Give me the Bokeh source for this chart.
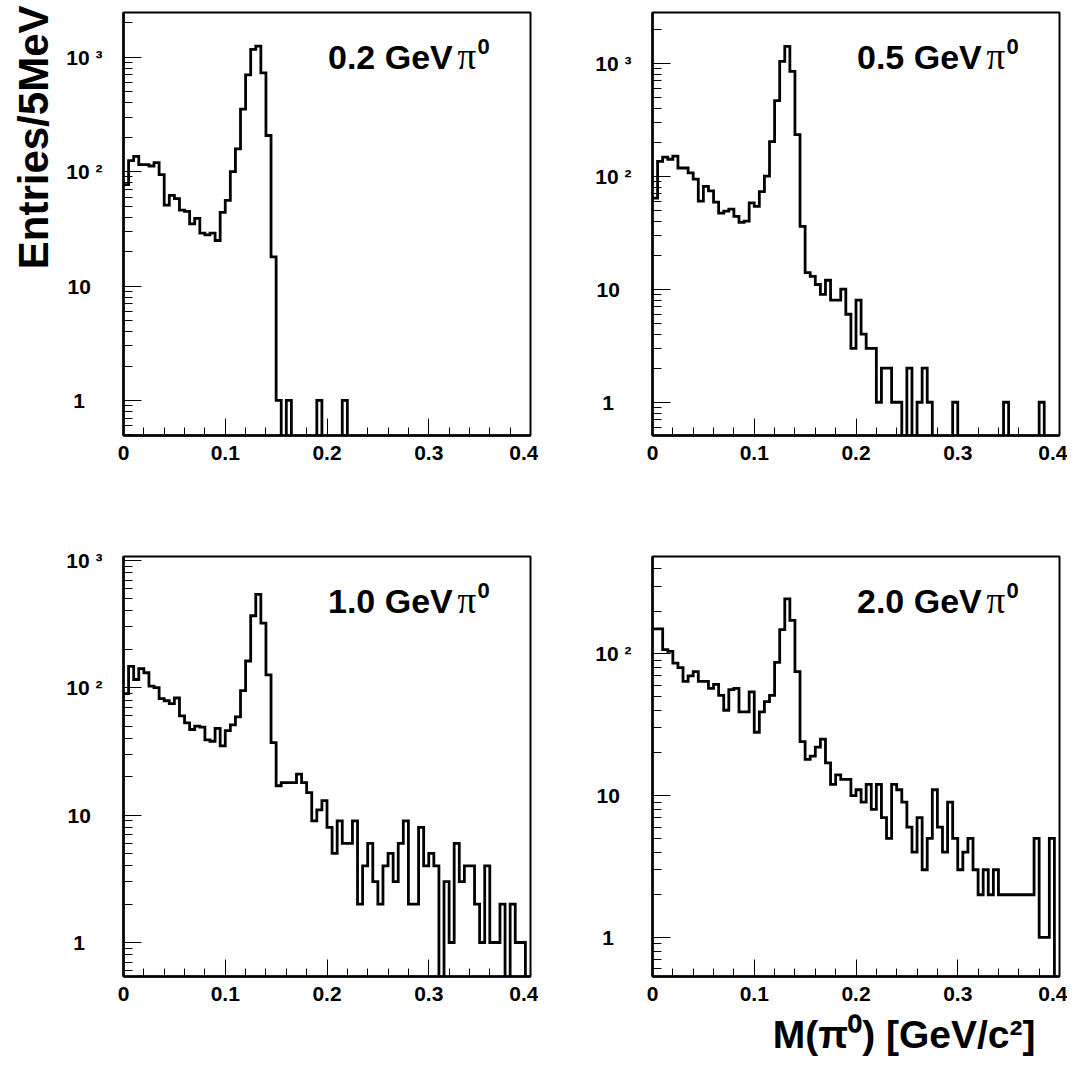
import math
from bokeh.plotting import figure
from bokeh.models import Range1d, FixedTicker, Label, Title
from bokeh.layouts import column, row
from bokeh.embed import file_html
from bokeh.resources import INLINE

# ---------------- data ----------------
bin_width = 0.005  # 5 MeV bins from 0 to 0.4 GeV
n_bins = 80
bin_edges = [round(i * bin_width, 4) for i in range(n_bins + 1)]

counts_02 = [77, 125, 136, 115, 115, 112, 120, 94, 51, 62,
             58, 46, 45, 35, 39, 29, 28, 29, 25, 44,
             56, 100, 158, 352, 700, 1170, 1250, 730, 207, 18,
             1, 0, 1, 0, 0, 0, 0, 0, 1, 0,
             0, 0, 0, 1, 0, 0, 0, 0, 0, 0,
             0, 0, 0, 0, 0, 0, 0, 0, 0, 0,
             0, 0, 0, 0, 0, 0, 0, 0, 0, 0,
             0, 0, 0, 0, 0, 0, 0, 0, 0, 0]

counts_05 = [64, 135, 147, 141, 150, 118, 118, 107, 94, 60,
             81, 74, 59, 47, 49, 51, 44, 39, 40, 58,
             54, 73, 100, 202, 465, 1036, 1406, 845, 233, 36,
             14, 13, 11, 9, 12, 8, 8, 10, 6, 3,
             8, 4, 3, 3, 1, 2, 2, 1, 1, 0,
             2, 0, 1, 2, 1, 0, 0, 0, 0, 1,
             0, 0, 0, 0, 0, 0, 0, 0, 0, 1,
             0, 0, 0, 0, 0, 0, 1, 0, 0, 0]

counts_10 = [90, 147, 116, 141, 131, 103, 100, 82, 79, 75,
             83, 60, 53, 47, 50, 49, 39, 38, 48, 35,
             46, 51, 59, 95, 162, 367, 541, 321, 126, 37,
             17, 18, 18, 18, 21, 18, 15, 9, 11, 13,
             8, 5, 9, 6, 6, 9, 2, 4, 6, 3,
             2, 4, 5, 3, 6, 9, 2, 2, 8, 4,
             5, 4, 0, 3, 1, 6, 3, 4, 4, 2,
             1, 4, 1, 1, 2, 0, 2, 1, 1, 0]

counts_20 = [150, 150, 107, 104, 86, 80, 64, 70, 75, 64,
             64, 57, 61, 51, 40, 56, 57, 39, 39, 54,
             28, 39, 46, 51, 87, 148, 244, 172, 75, 24,
             18, 19, 22, 25, 17, 12, 14, 13, 13, 10,
             11, 9, 12, 8, 12, 7, 5, 12, 11, 9,
             6, 4, 7, 3, 5, 11, 6, 4, 9, 5,
             3, 4, 5, 3, 2, 3, 2, 3, 2, 2,
             2, 2, 2, 2, 2, 5, 1, 1, 5, 0]

panel_labels = ["0.2 GeV", "0.5 GeV", "1.0 GeV", "2.0 GeV"]
y_ranges = [(0.494, 2460.0), (0.508, 2800.0), (0.541, 1071.0), (0.53, 486.0)]

x_major = [0, 0.1, 0.2, 0.3, 0.4]
x_tick_labels = ["0", "0.1", "0.2", "0.3", "0.4"]
x_minor = [round(0.02 * i, 3) for i in range(21)]
y_major = [1, 10, 100, 1000]
y_tick_labels = ["1\u00a0\u00a0\u00a0", "10\u00a0\u00a0", "10 \u00b2", "10 \u00b3"]
y_minor_all = [m * 10 ** k for k in range(-1, 4) for m in range(2, 10)]

y_title = "Entries/5MeV"
x_title = "M(\u03c0\u2070) [GeV/c\u00b2]"

SANS = "Liberation Sans"
SERIF = "Liberation Serif"


def make_panel(counts, label, yr, width, height, bl, br, bt, bb):
    p = figure(width=width, height=height,
               x_range=Range1d(0, 0.4), y_range=Range1d(yr[0], yr[1]),
               y_axis_type="log", output_backend="svg",
               toolbar_location=None, title=None,
               min_border_left=bl, min_border_right=br,
               min_border_top=bt, min_border_bottom=bb)
    p.background_fill_color = "white"
    p.border_fill_color = "white"
    p.outline_line_color = "black"
    p.outline_line_width = 2
    p.xgrid.visible = False
    p.ygrid.visible = False

    floor = yr[0] * 0.05
    yv = [c if c > 0 else floor for c in counts]
    p.step(x=bin_edges, y=yv + [yv[-1]], mode="after",
           line_color="black", line_width=2.8, line_join="miter")

    # x axis
    xa = p.xaxis[0]
    xa.ticker = FixedTicker(ticks=x_major, minor_ticks=x_minor)
    xa.major_label_overrides = dict(zip(x_major, x_tick_labels))
    xa.major_tick_in = 17
    xa.major_tick_out = 0
    xa.minor_tick_in = 8
    xa.minor_tick_out = 0
    xa.major_label_standoff = 10

    # y axis
    ya = p.yaxis[0]
    ymin, ymax = yr
    ya.ticker = FixedTicker(ticks=[t for t in y_major if ymin <= t <= ymax],
                            minor_ticks=[t for t in y_minor_all if ymin <= t <= ymax])
    ya.major_label_overrides = dict(zip(y_major, y_tick_labels))
    ya.major_tick_in = 18
    ya.major_tick_out = 0
    ya.minor_tick_in = 9
    ya.minor_tick_out = 0
    ya.major_label_standoff = 21

    for ax in (xa, ya):
        ax.axis_line_color = "black"
        ax.axis_line_width = 2.5
        ax.major_tick_line_color = "black"
        ax.minor_tick_line_color = "black"
        ax.major_tick_line_width = 1
        ax.minor_tick_line_width = 1
        ax.major_label_text_font = SANS
        ax.major_label_text_font_style = "bold"
        ax.major_label_text_font_size = "21px"
        ax.major_label_text_color = "black"

    fh = height - bt - bb
    base_y = fh - 57 + 13
    p.add_layout(Label(x=204.5, y=base_y, x_units="screen", y_units="screen",
                       text=label, text_font=SANS, text_font_style="bold",
                       text_font_size="34px", text_baseline="alphabetic",
                       text_color="black"))
    p.add_layout(Label(x=334, y=base_y, x_units="screen", y_units="screen",
                       text="\u03c0", text_font=SERIF, text_font_size="37px",
                       text_baseline="alphabetic", text_color="black"))
    p.add_layout(Label(x=354, y=base_y + 10, x_units="screen", y_units="screen",
                       text="0", text_font=SANS, text_font_style="bold",
                       text_font_size="22px", text_baseline="alphabetic",
                       text_color="black"))
    return p


# geometry (page px): frames at x 123 / 652, width 407; rows at y 12 / 556
pA = make_panel(counts_02, panel_labels[0], y_ranges[0], 538, 495, 123, 8, 12, 60)
pB = make_panel(counts_05, panel_labels[1], y_ranges[1], 529, 495, 114, 8, 12, 60)
pC = make_panel(counts_10, panel_labels[2], y_ranges[2], 538, 571, 123, 8, 61, 90)
pD = make_panel(counts_20, panel_labels[3], y_ranges[3], 529, 571, 114, 8, 61, 90)

# axis titles as side titles (ROOT style: at the end of the axis)
pA.add_layout(Title(text=y_title, align="right", text_font=SANS,
                    text_font_style="bold", text_font_size="42px",
                    text_color="black", standoff=13, offset=-7), "left")
pD.add_layout(Title(text=x_title, align="right", text_font=SANS,
                    text_font_style="bold", text_font_size="39px",
                    text_color="black", standoff=15, offset=24), "below")

layout = column(row(pA, pB), row(pC, pD))
open("out.html", "w").write(file_html(layout, INLINE))
